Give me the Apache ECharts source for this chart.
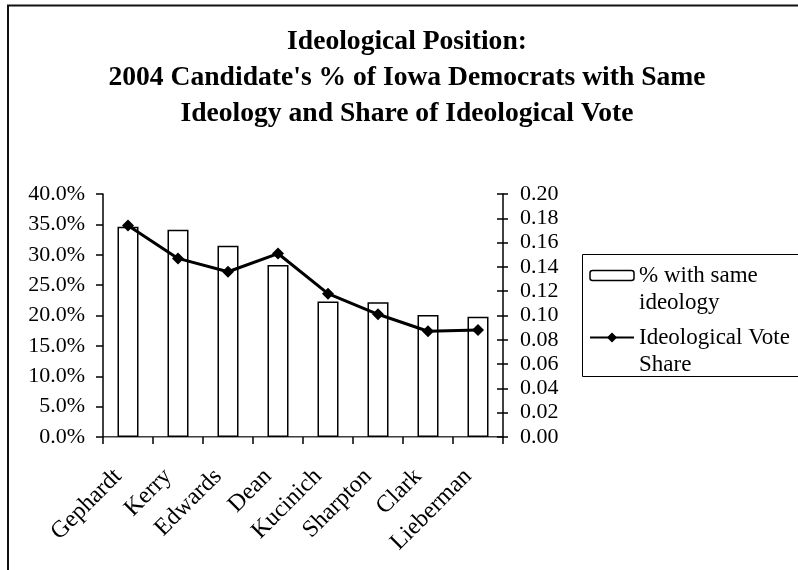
<!DOCTYPE html>
<html>
<head>
<meta charset="utf-8">
<script src="https://cdn.jsdelivr.net/npm/echarts@6/dist/echarts.min.js"></script>
<style>
  html, body { margin: 0; padding: 0; background: #fff; }
  #chart { width: 798px; height: 570px; }
</style>
</head>
<body>
<div id="chart"></div>
<script>
// Candidates in ballot order
const candidates = ['Gephardt', 'Kerry', 'Edwards', 'Dean', 'Kucinich', 'Sharpton', 'Clark', 'Lieberman'];
// Percent of Iowa Democrats sharing the candidate's ideology (left axis, %)
const sameIdeology = [34.6, 34.1, 31.5, 28.3, 22.3, 22.2, 20.1, 19.8];
// Candidate's share of the ideological vote (right axis)
const voteShare = [0.174, 0.147, 0.136, 0.151, 0.118, 0.101, 0.087, 0.088];

const FONT = 'Liberation Serif';
const chart = echarts.init(document.getElementById('chart'), null, { renderer: 'canvas' });

chart.setOption({
  backgroundColor: '#ffffff',
  animation: false,
  title: {
    text: "Ideological Position:\n2004 Candidate's % of Iowa Democrats with Same\nIdeology and Share of Ideological Vote",
    left: 407,
    top: 24,
    padding: 0,
    textAlign: 'center',
    textStyle: { fontFamily: FONT, fontSize: 27.6, fontWeight: 'bold', color: '#000', lineHeight: 36 }
  },
  graphic: [
    // outer chart frame
    { type: 'rect', shape: { x: 8, y: 5.5, width: 900, height: 700 },
      style: { fill: 'none', stroke: '#111', lineWidth: 2 }, silent: true, z: 0 },
    // legend frame
    { type: 'rect', shape: { x: 582.5, y: 254.5, width: 300, height: 122 },
      style: { fill: '#fff', stroke: '#000', lineWidth: 1 }, silent: true, z: 1 }
  ],
  legend: {
    orient: 'vertical',
    left: 589,
    top: 235,
    padding: 0,
    itemGap: -19,
    itemWidth: 44,
    itemHeight: 10,
    z: 5,
    // leading blank line keeps the symbol level with the first text line
    formatter: name => '\n' + name,
    data: [
      { name: '% with same\nideology' },
      { name: 'Ideological Vote\nShare' }
    ],
    textStyle: { fontFamily: FONT, fontSize: 23, color: '#000', lineHeight: 27 },
    itemStyle: { borderColor: '#000', borderWidth: 1.5 }
  },
  grid: { left: 103, right: 295, top: 194, bottom: 133, containLabel: false },
  xAxis: [
    {
      type: 'category',
      data: candidates,
      position: 'bottom',
      boundaryGap: true,
      axisLine: { lineStyle: { color: '#000', width: 1.5 } },
      axisTick: { show: true, length: 7, lineStyle: { color: '#000', width: 1.5 } },
      axisLabel: { rotate: 45, margin: 9, align: 'right', verticalAlign: 'top', padding: [0, 26, 0, 0],
        fontFamily: FONT, fontSize: 24, color: '#000', interval: 0 }
    },
    {
      // thin rule along the top of the plot
      type: 'category',
      data: candidates,
      position: 'top',
      axisLine: { lineStyle: { color: '#999', width: 1 } },
      axisTick: { show: false },
      axisLabel: { show: false }
    }
  ],
  yAxis: [
    {
      type: 'value',
      position: 'left',
      min: 0, max: 40, interval: 5,
      splitLine: { show: false },
      axisLine: { show: true, lineStyle: { color: '#000', width: 1.5 } },
      axisTick: { show: true, length: 7, lineStyle: { color: '#000', width: 1.5 } },
      axisLabel: { margin: 18, fontFamily: FONT, fontSize: 22, color: '#000',
        formatter: v => v.toFixed(1) + '%' }
    },
    {
      type: 'value',
      position: 'right',
      min: 0, max: 0.2, interval: 0.02,
      splitLine: { show: false },
      axisLine: { show: true, lineStyle: { color: '#000', width: 1.5 } },
      axisTick: { show: true, length: 5, lineStyle: { color: '#000', width: 1.5 } },
      axisLabel: { margin: 17, fontFamily: FONT, fontSize: 22, color: '#000',
        formatter: v => v.toFixed(2) }
    },
    {
      // inner half of the crossing ticks on the right axis
      type: 'value',
      position: 'right',
      min: 0, max: 0.2, interval: 0.02,
      splitLine: { show: false },
      axisLine: { show: false },
      axisTick: { show: true, inside: true, length: 6, lineStyle: { color: '#000', width: 1.5 } },
      axisLabel: { show: false }
    }
  ],
  series: [
    {
      name: '% with same\nideology',
      type: 'bar',
      xAxisIndex: 0,
      yAxisIndex: 0,
      data: sameIdeology,
      barWidth: '42%',
      itemStyle: { color: '#fff', borderColor: '#000', borderWidth: 1.5 },
      z: 2
    },
    {
      name: 'Ideological Vote\nShare',
      type: 'line',
      xAxisIndex: 0,
      yAxisIndex: 1,
      data: voteShare,
      symbol: 'diamond',
      symbolSize: 12,
      lineStyle: { color: '#000', width: 3 },
      itemStyle: { color: '#000' },
      z: 3
    }
  ]
});
</script>
</body>
</html>
